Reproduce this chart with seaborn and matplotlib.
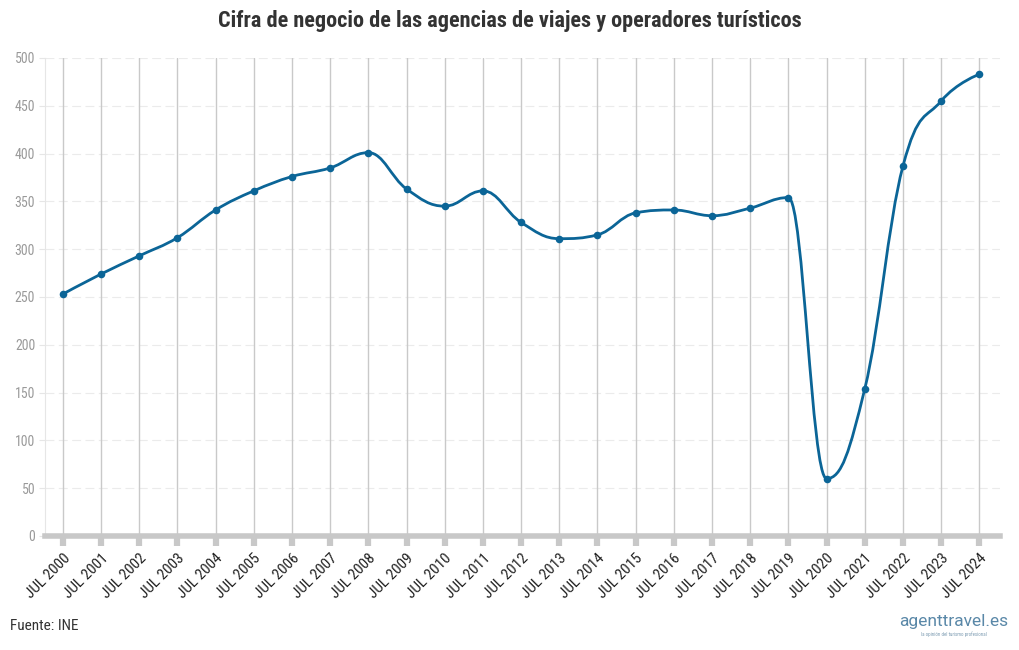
import numpy as np
import pandas as pd
import matplotlib
matplotlib.use("Agg")
import matplotlib.pyplot as plt
from matplotlib.path import Path
from matplotlib.patches import PathPatch
import seaborn as sns

# Data
years = list(range(2000, 2025))
labels = ["JUL %d" % y for y in years]
turnover = [253, 274, 293, 312, 341, 361, 376, 385, 401, 363, 345, 361, 328,
            311, 315, 338, 341, 335, 343, 354, 60, 154, 387, 455, 483]

df = pd.DataFrame({"pos": np.arange(len(years)), "label": labels, "value": turnover})

sns.set_theme(style="white")
plt.rcParams["font.family"] = ["Roboto Condensed", "Roboto", "DejaVu Sans"]

line_color = "#0b6597"

fig = plt.figure(figsize=(10.2, 6.5), dpi=100)
ax = fig.add_axes([0.044, 0.1754, 0.936, 0.7354])


def spline_path(xs, ys, smoothing=1.5):
    # bezier control points in the style of a "spline" series
    n = len(xs)
    verts = [(xs[0], ys[0])]
    codes = [Path.MOVETO]
    left = [None] * n
    right = [None] * n
    for i in range(1, n - 1):
        px, py = xs[i], ys[i]
        lx, ly = xs[i - 1], ys[i - 1]
        nx, ny = xs[i + 1], ys[i + 1]
        d = smoothing + 1
        lcx = (smoothing * px + lx) / d
        lcy = (smoothing * py + ly) / d
        rcx = (smoothing * px + nx) / d
        rcy = (smoothing * py + ny) / d
        if rcx != lcx:
            corr = ((rcy - lcy) * (rcx - px)) / (rcx - lcx) + py - rcy
            lcy += corr
            rcy += corr
        if lcy > ly and lcy > py:
            lcy = max(ly, py)
            rcy = 2 * py - lcy
        elif lcy < ly and lcy < py:
            lcy = min(ly, py)
            rcy = 2 * py - lcy
        if rcy > ny and rcy > py:
            rcy = max(ny, py)
            lcy = 2 * py - rcy
        elif rcy < ny and rcy < py:
            rcy = min(ny, py)
            lcy = 2 * py - rcy
        left[i] = (lcx, lcy)
        right[i] = (rcx, rcy)
    for i in range(1, n):
        c1 = right[i - 1] if right[i - 1] else (xs[i - 1], ys[i - 1])
        c2 = left[i] if left[i] else (xs[i], ys[i])
        verts += [c1, c2, (xs[i], ys[i])]
        codes += [Path.CURVE4] * 3
    return Path(verts, codes)


# grid
for v in range(50, 501, 50):
    ax.axhline(v, color="#ebebeb", lw=0.8, ls=(0, (8, 4)), zorder=0)
for p in df["pos"]:
    ax.plot([p, p], [0, 500], color="#c9c9c9", lw=1.0, zorder=1)

# smooth line + markers
path = spline_path(df["pos"].tolist(), df["value"].tolist())
ax.add_patch(PathPatch(path, facecolor="none", edgecolor=line_color, lw=2.0,
                       zorder=3, capstyle="round", joinstyle="round"))
sns.scatterplot(data=df, x="pos", y="value", ax=ax, color=line_color, s=30,
                edgecolor=line_color, linewidth=0, zorder=4, legend=False)

ax.set_xlim(-0.47, 24.53)
ax.set_ylim(0, 500)
ax.set_xlabel("")
ax.set_ylabel("")

for s in ["top", "right"]:
    ax.spines[s].set_visible(False)
ax.spines["left"].set_color("#e6e6e6")
ax.spines["left"].set_linewidth(0.8)
ax.spines["bottom"].set_color("#c8c8c8")
ax.spines["bottom"].set_linewidth(4)
ax.spines["bottom"].set_zorder(5)

ax.set_yticks(range(0, 501, 50))
ax.tick_params(axis="y", length=4, width=0.8, color="#e6e6e6", labelsize=10,
               labelcolor="#9a9a9a", pad=3, left=True)
ax.set_xticks(df["pos"])
ax.set_xticklabels(df["label"], rotation=45, ha="right", rotation_mode="anchor")
ax.tick_params(axis="x", length=7, width=4.5, color="#c8c8c8", labelsize=11,
               labelcolor="#222222", pad=4, bottom=True)

fig.suptitle("Cifra de negocio de las agencias de viajes y operadores turísticos",
             x=0.5, y=0.985, fontsize=16, fontweight="bold", color="#333333")

fig.text(0.01, 0.031, "Fuente: INE", fontsize=11, color="#333333")
fig.text(0.988, 0.037, "agenttravel.es", fontsize=12.5, color="#5a88a8",
         ha="right", fontfamily=["Roboto", "DejaVu Sans"])
fig.text(0.967, 0.022, "la opinión del turismo profesional", fontsize=3.5,
         color="#7f9db3", ha="right")

fig.savefig("out.png", dpi=100)
